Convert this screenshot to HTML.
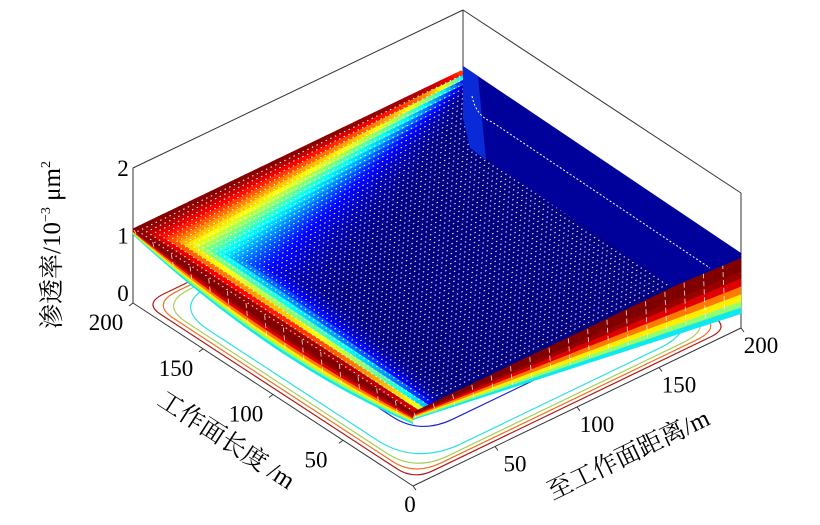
<!DOCTYPE html>
<html><head><meta charset="utf-8"><style>
html,body{margin:0;padding:0;background:#fff;}
svg{display:block;}
text{font-family:"Liberation Serif","Noto Serif CJK SC",serif;fill:#000;}
</style></head><body>
<svg id="chart" width="820" height="525" viewBox="0 0 820 525" xmlns="http://www.w3.org/2000/svg">
<g id="box" stroke="#333" stroke-width="1" fill="none">
  <line x1="133" y1="168" x2="463" y2="10"/>
  <line x1="463" y1="10" x2="741" y2="193"/>
  <line x1="463" y1="10" x2="463" y2="145"/>
  <line x1="133" y1="168" x2="133" y2="303"/>
  <line x1="741" y1="193" x2="741" y2="328"/>
  <line x1="133" y1="303" x2="413" y2="486"/>
  <line x1="413" y1="486" x2="741" y2="328"/>
</g>
<g id="ticks"></g>
<g id="contours"></g>
<g id="walls"></g>
<defs><clipPath id="topclip"><polygon id="topclipPoly"/></clipPath></defs>
<g id="top"></g>
<g id="labels" font-size="23"></g>
<text transform="translate(60,245) rotate(-90)" text-anchor="middle" font-size="25">渗透率/10<tspan dy="-10" font-size="14">−3</tspan><tspan dy="10"> μm</tspan><tspan dy="-10" font-size="14">2</tspan></text>
<text transform="translate(222,447) rotate(33)" text-anchor="middle" font-size="25">工作面长度 /m</text>
<text transform="translate(632,462) rotate(-25.7)" text-anchor="middle" font-size="25">至工作面距离/m</text>
</svg>
<script>
// ---- data ----
const xTicks = [0, 50, 100, 150, 200];
const yTicks = [50, 100, 150, 200];
const zTicks = [0, 1, 2];
const edgeHeight = [1.1];                 // permeability at surface rim (10^-3 um^2)
const contourOffsets = [0.018, 0.03, 0.042, 0.06, 0.15];
const contourRadii = [0.06, 0.08, 0.10, 0.14, 0.10];
const contourColors = ['#b01818', '#ee7020', '#a8d058', '#30e0e0', '#1828d0'];
const ridgeWidthBack = [0.22, 0.02];      // band width along 工作面长度=200 edge (varies with x)
const ridgeWidthFront = [0.035, 0.07];    // band width along x=0 edge (varies with y)

const NS = 'http://www.w3.org/2000/svg';
const F = [413, 486], R = [741, 328], L = [133, 303], ZS = 67.5;
function P(x, y, z) {
  const a = x / 200, b = y / 200;
  return [F[0] + a * (R[0] - F[0]) + b * (L[0] - F[0]), F[1] + a * (R[1] - F[1]) + b * (L[1] - F[1]) - z * ZS];
}
function mk(tag, attrs, parent) { const e = document.createElementNS(NS, tag); for (const k in attrs) e.setAttribute(k, attrs[k]); parent.appendChild(e); return e; }
function cl(v) { return Math.max(0, Math.min(1, v)); }
function jet(t) { const r = cl(1.5 - Math.abs(4 * t - 3)), g = cl(1.5 - Math.abs(4 * t - 2)), b = cl(1.5 - Math.abs(4 * t - 1)); return `rgb(${Math.round(r * 255)},${Math.round(g * 255)},${Math.round(b * 255)})`; }
function pts(a) { return a.map(p => p[0].toFixed(1) + ',' + p[1].toFixed(1)).join(' '); }

const tk = document.getElementById('ticks');
yTicks.forEach(v => { const p = P(0, v, 0); const e = mk('line', { x1: p[0], y1: p[1], x2: p[0] - 4, y2: p[1] + 3, stroke: '#333' }, tk);   });
xTicks.forEach(v => { const p = P(v, 0, 0); const e = mk('line', { x1: p[0], y1: p[1], x2: p[0] + 3, y2: p[1] + 4, stroke: '#333' }, tk);   });

const lb = document.getElementById('labels');
zTicks.forEach(v => { const p = P(0, 200, v); const t = mk('text', { x: p[0] - 10, y: p[1] + 8 - (v === 0 ? 10 : 0), 'text-anchor': 'middle' }, lb); t.textContent = v;   });
yTicks.forEach(v => { const p = P(0, v, 0); const t = mk('text', { x: p[0] - 27, y: p[1] + 27, 'text-anchor': 'middle' }, lb); t.textContent = v;   });
xTicks.forEach(v => { const p = P(v, 0, 0); const t = mk('text', { x: p[0] + (v === 0 ? -3 : 20), y: p[1] + (v === 0 ? 26 : 25), 'text-anchor': 'middle' }, lb); t.textContent = v;   });

const cg = document.getElementById('contours');
contourOffsets.forEach((d, i) => {
  const r = contourRadii[i], e = 1 - d;
  const f = (a, b) => P(a * 200, b * 200, 0);
  const seq = [[d + r, e], [d, e], [d, e - r], [d, d + r], [d, d], [d + r, d], [e - r, d], [e, d], [e, d + r], [e, e - r], [e, e], [e - r, e]];
  const q = seq.map(s => f(s[0], s[1]));
  const c = p => p[0].toFixed(1) + ' ' + p[1].toFixed(1);
  const dstr = `M${c(q[0])} Q${c(q[1])} ${c(q[2])} L${c(q[3])} Q${c(q[4])} ${c(q[5])} L${c(q[6])} Q${c(q[7])} ${c(q[8])} L${c(q[9])} Q${c(q[10])} ${c(q[11])} Z`;
  const p = mk('path', { d: dstr, fill: 'none', stroke: contourColors[i], 'stroke-width': 1.2 }, cg);
  
  
});

const Z = edgeHeight[0];
const topG = document.getElementById('top');
function Q(u, v) { return P(u * 200, v * 200, Z); }
function tval(u, v) {
  const w1 = ridgeWidthBack[0] * (1 - u) + ridgeWidthBack[1];
  const w2 = ridgeWidthFront[0] + ridgeWidthFront[1] * v;
  return Math.max(Math.exp(-Math.pow((1 - v) / w1, 1.6)), Math.exp(-Math.pow(u / w2, 1.6)), 0.0);
}
const N = 64;
for (let i = 0; i < N; i++) for (let j = 0; j < N; j++) {
  const u0 = i / N, u1 = (i + 1) / N, v0 = j / N, v1 = (j + 1) / N;
  const col = jet(tval((u0 + u1) / 2, (v0 + v1) / 2));
  const c = mk('polygon', { points: pts([Q(u0, v0), Q(u1, v0), Q(u1, v1), Q(u0, v1)]), fill: col, stroke: col, 'stroke-width': 0.6 }, topG);
  
  
}
document.getElementById('topclipPoly').setAttribute('points', pts([Q(0, 0), Q(1, 0), Q(1, 1), Q(0, 1)]));
const dots = mk('g', { 'clip-path': 'url(#topclip)', stroke: '#fff', 'stroke-width': 1.1, 'stroke-dasharray': '1.5 3.6', opacity: 0.9 }, topG);


for (let j = 1; j < 66; j++) { const v = j / 66; const a = Q(0, v), b = Q(1, v); mk('line', { x1: a[0], y1: a[1], x2: b[0], y2: b[1] }, dots); }
const fw = mk('polygon', { points: '463,66 741,253 741,258 672,287 470,148 463,118', fill: '#00009a' }, topG);


const fs = mk('polygon', { points: '463,66 478,76 486,160 470,148 463,118', fill: '#0a2ad8' }, topG);


const wl = mk('path', { d: 'M472 96 Q476 116 492 122 L710 268', fill: 'none', stroke: '#fff', 'stroke-width': 1, 'stroke-dasharray': '2 2' }, topG);



const wallStops = [0, 0.3, 0.42, 0.55, 0.68, 0.8, 0.9, 1.0];
const wallCols = ['#800000', '#9a0000', '#e00000', '#ff7a00', '#ffee00', '#90ff70', '#10e8f0', '#2090ff'];
const wg = document.getElementById('walls');
function wall(A, B, hA, nseg, name) {
  const g = mk('g', {}, wg);
  
  
  for (let k = 0; k < nseg; k++) {
    const s0 = k / nseg, s1 = (k + 1) / nseg;
    const top0 = [A[0] + (B[0] - A[0]) * s0, A[1] + (B[1] - A[1]) * s0], top1 = [A[0] + (B[0] - A[0]) * s1, A[1] + (B[1] - A[1]) * s1];
    const h0 = hA(s0), h1 = hA(s1);
    for (let m = 0; m < wallStops.length - 1; m++) {
      const f0 = wallStops[m], f1 = wallStops[m + 1];
      mk('polygon', { points: pts([[top0[0], top0[1] + h0 * f0], [top1[0], top1[1] + h1 * f0], [top1[0], top1[1] + h1 * f1], [top0[0], top0[1] + h0 * f1]]), fill: wallCols[m], stroke: wallCols[m], 'stroke-width': 0.4 }, g);
    }
    if (k % 2 === 0) mk('line', { x1: top0[0] + 1, y1: top0[1] + 1, x2: top0[0] + 3, y2: top0[1] + h0 * 0.85, stroke: '#fff', 'stroke-width': 0.9, 'stroke-dasharray': '5 3', opacity: 0.8 }, g);
  }
}
const Fp = Q(0, 0), Rp = Q(1, 0), Lp = Q(0, 1);
wall(Fp, Rp, s => 8 + 52 * s, 34, 'front-right-wall');
wall(Lp, Fp, s => 6 + 70 * s * (1 - s) + 6 * s, 30, 'front-left-wall');
</script>
</body></html>
